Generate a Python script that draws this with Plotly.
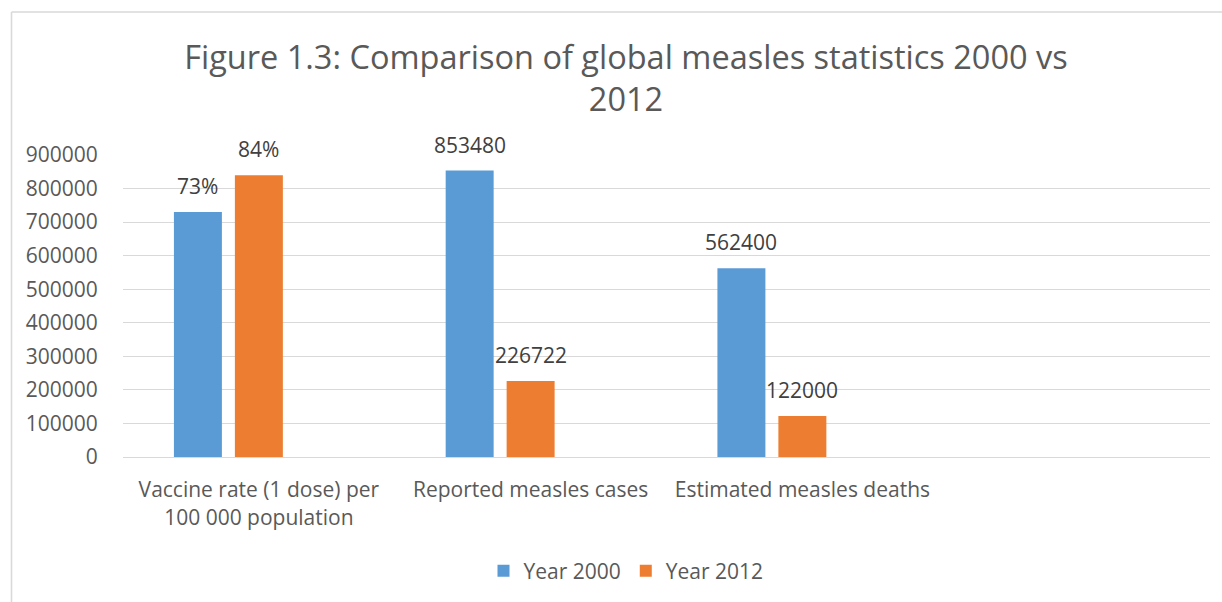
import plotly.graph_objects as go

categories = ["Vaccine rate (1 dose) per<br>100 000 population",
              "Reported measles cases",
              "Estimated measles deaths"]
series_names = ["Year 2000", "Year 2012"]
values_2000 = [730000, 853480, 562400]
values_2012 = [840000, 226722, 122000]
labels_2000 = ["73%", "853480", "562400"]
labels_2012 = ["84%", "226722", "122000"]
y_ticks = [0, 100000, 200000, 300000, 400000, 500000, 600000, 700000, 800000, 900000]

W, H = 1222, 602
ML, MR, MT, MB = 123, 12, 155, 144
N_CAT_SLOTS = 4        # Excel axis reserves an empty 4th category
N_SERIES_SLOTS = 3     # and an empty 3rd series slot
BARGAP = 0.327
BARGROUPGAP = 0.213

FONT = "Open Sans"
GREY = "#595959"
DARK = "#404040"
BLUE = "#5B9BD5"
ORANGE = "#ED7D31"
GRID = "#D9D9D9"

fig = go.Figure()
fig.add_trace(go.Bar(x=categories, y=values_2000, name=series_names[0],
                     marker=dict(color=BLUE, line=dict(width=0))))
fig.add_trace(go.Bar(x=categories, y=values_2012, name=series_names[1],
                     marker=dict(color=ORANGE, line=dict(width=0))))
# empty placeholder series (Excel chart keeps a blank series slot)
fig.add_trace(go.Bar(x=categories, y=[None, None, None], name="",
                     showlegend=False, hoverinfo="skip"))

plot_w = W - ML - MR
slot = plot_w / N_CAT_SLOTS * (1 - BARGAP) / N_SERIES_SLOTS
annotations = []
for j, (vals, labs) in enumerate([(values_2000, labels_2000), (values_2012, labels_2012)]):
    shift = (j - (N_SERIES_SLOTS - 1) / 2) * slot
    for c, v, t in zip(categories, vals, labs):
        annotations.append(dict(x=c, y=v, xref="x", yref="y", text=t, showarrow=False,
                                xshift=shift, yanchor="bottom", yshift=10,
                                font=dict(family=FONT, size=21, color=DARK)))

plot_h = H - MT - MB
def px_x(p):
    return (p - ML) / plot_w
def px_y(p):
    return (H - MB - p) / plot_h

shapes = [
    dict(type="line", xref="paper", yref="paper", x0=px_x(11.5), x1=px_x(1230),
         y0=px_y(11.5), y1=px_y(11.5), line=dict(color=GRID, width=1.6)),
    dict(type="line", xref="paper", yref="paper", x0=px_x(11.5), x1=px_x(11.5),
         y0=px_y(11.5), y1=px_y(610), line=dict(color=GRID, width=1.6)),
]

fig.update_layout(
    width=W, height=H, autosize=False,
    margin=dict(l=ML, r=MR, t=MT, b=MB, pad=0),
    paper_bgcolor="white", plot_bgcolor="white",
    barmode="group", bargap=BARGAP, bargroupgap=BARGROUPGAP,
    font=dict(family=FONT, size=21, color=GREY),
    title=dict(text="Figure 1.3: Comparison of global measles statistics 2000 vs<br>2012",
               x=626 / W, xanchor="center", xref="container",
               y=1 - 69 / H, yanchor="top", yref="container",
               font=dict(family=FONT, size=32.5, color=GREY)),
    xaxis=dict(type="category", range=[-0.5, N_CAT_SLOTS - 0.5],
               showgrid=False, showline=True, linecolor=GRID, linewidth=1.3,
               ticks="outside", ticklen=14, tickcolor="rgba(0,0,0,0)",
               tickfont=dict(family=FONT, size=21, color=GREY), zeroline=False,
               fixedrange=True),
    yaxis=dict(range=[0, 900000], tickvals=y_ticks, tickformat="d",
               showgrid=True, gridcolor=GRID, gridwidth=1.3, zeroline=False,
               showline=False, ticks="outside", ticklen=20, tickcolor="rgba(0,0,0,0)",
               tickfont=dict(family=FONT, size=21, color=GREY), fixedrange=True),
    legend=dict(orientation="h", x=px_x(626), xanchor="center",
                y=px_y(571), yanchor="middle",
                font=dict(family=FONT, size=21, color=GREY),
                itemwidth=30, tracegroupgap=0),
    annotations=annotations,
    shapes=shapes,
    showlegend=True,
)

fig.write_html("out.html")
